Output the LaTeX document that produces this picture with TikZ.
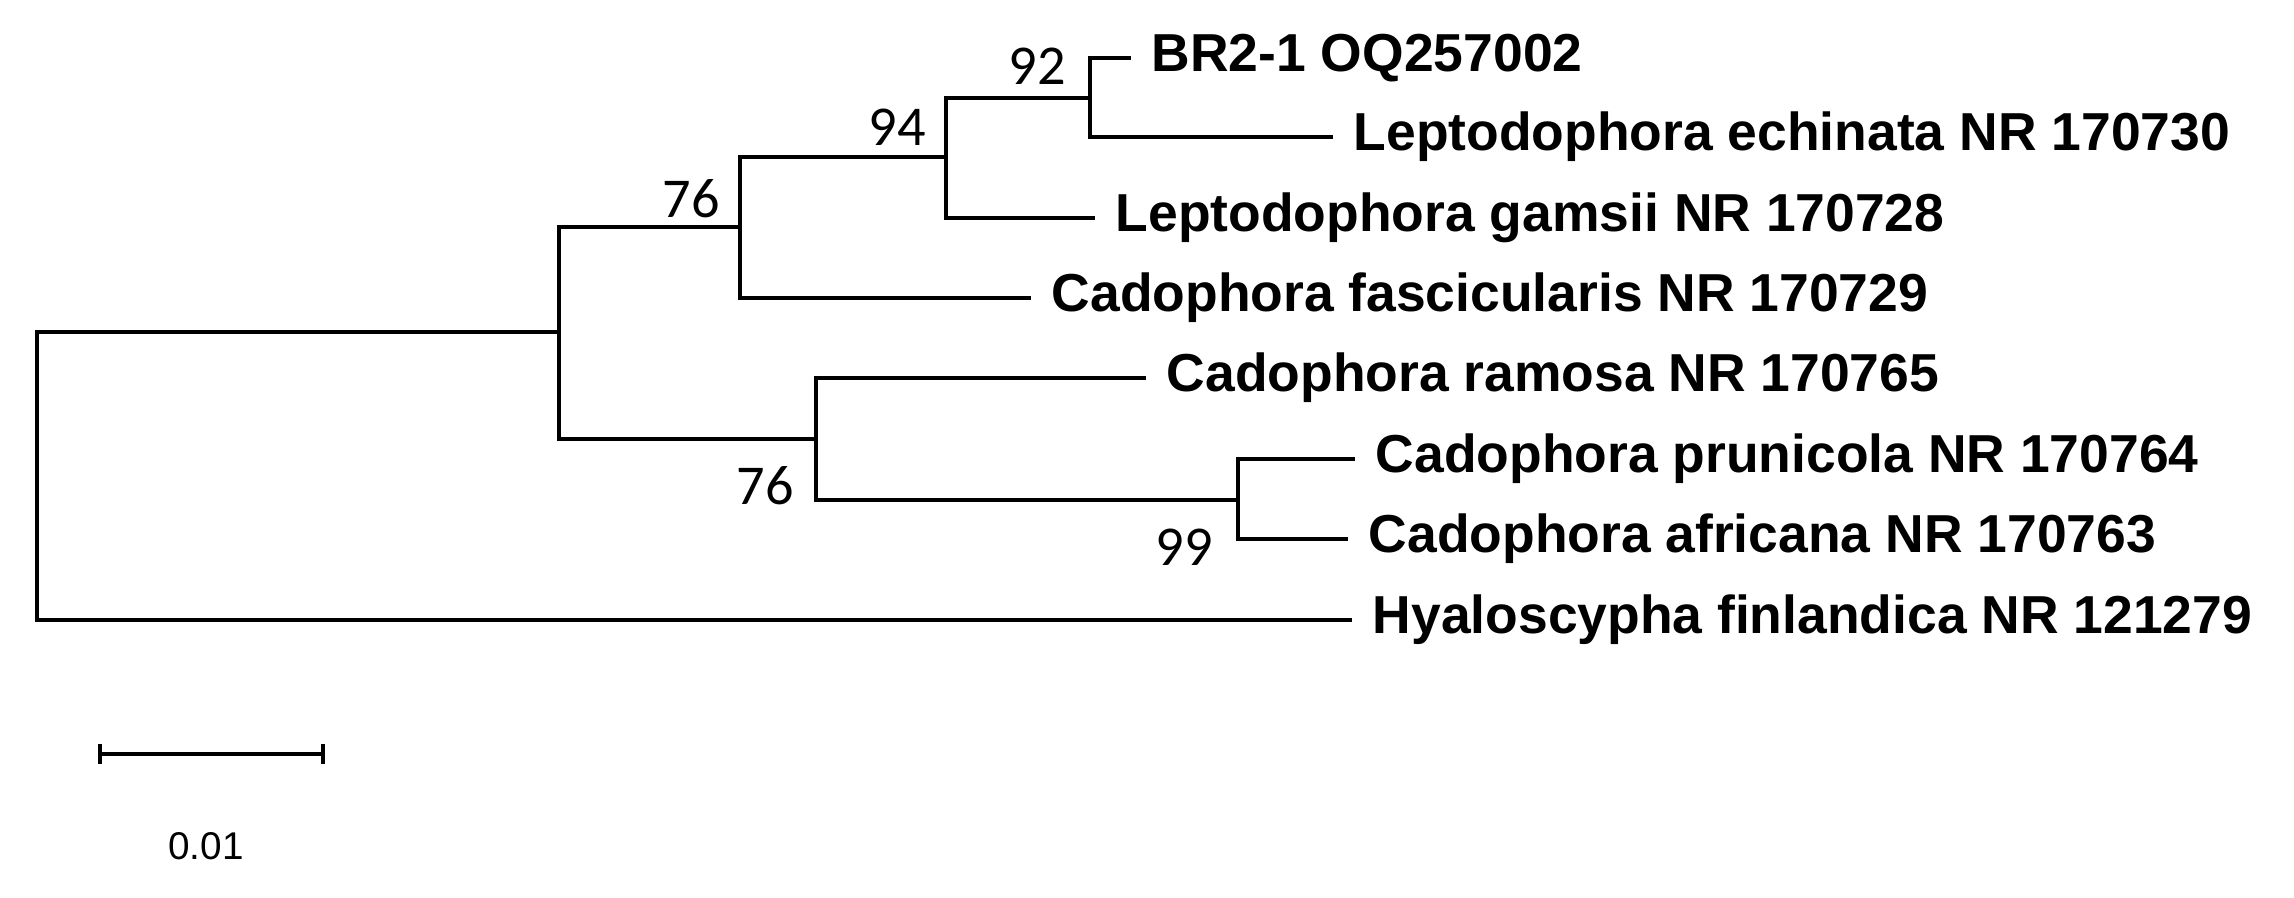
\documentclass[tikz,border=0pt]{standalone}
\usepackage{fontspec}
\setmainfont{Liberation Sans}
\newfontfamily\bootfont{Carlito}
\tikzset{
    branch/.style={line width=1.2pt, line cap=rect},
    taxon/.style={anchor=west, font=\fontsize{15.2}{17}\selectfont\bfseries, inner sep=0pt},
    boot/.style={font=\bootfont\fontsize{16}{18}\selectfont, inner sep=0pt},
}
\begin{document}
\begin{tikzpicture}[x=0.01cm, y=-0.01cm]
    \useasboundingbox (0,0) rectangle (2294,898);

    % internal nodes
    \coordinate (root) at (37,332);
    \coordinate (nA) at (559,332);
    \coordinate (nB) at (740,227);
    \coordinate (nC) at (946,157);
    \coordinate (nD) at (1090,98);
    \coordinate (nE) at (816,439);
    \coordinate (nF) at (1238,500);

    % tips
    \coordinate (tBR) at (1129,58);
    \coordinate (tEch) at (1331,137);
    \coordinate (tGam) at (1093,218);
    \coordinate (tFas) at (1029,298);
    \coordinate (tRam) at (1144,378);
    \coordinate (tPru) at (1353,459);
    \coordinate (tAfr) at (1346,539);
    \coordinate (tHya) at (1350,620);

    % branches
    \draw[branch] (tHya) -| (root) |- (nA);
    \draw[branch] (nB) -| (nA) |- (nE);
    \draw[branch] (nC) -| (nB) |- (tFas);
    \draw[branch] (nD) -| (nC) |- (tGam);
    \draw[branch] (tBR) -| (nD) |- (tEch);
    \draw[branch] (tRam) -| (nE) |- (nF);
    \draw[branch] (tPru) -| (nF) |- (tAfr);

    % labels
    \node[taxon] (lBR) at ([xshift=0.22cm]tBR) {BR2-1 OQ257002};
    \node[taxon] (lEch) at ([xshift=0.22cm]tEch) {Leptodophora echinata NR 170730};
    \node[taxon] (lGam) at ([xshift=0.22cm]tGam) {Leptodophora gamsii NR 170728};
    \node[taxon] (lFas) at ([xshift=0.22cm]tFas) {Cadophora fascicularis NR 170729};
    \node[taxon] (lRam) at ([xshift=0.22cm]tRam) {Cadophora ramosa NR 170765};
    \node[taxon] (lPru) at ([xshift=0.22cm]tPru) {Cadophora prunicola NR 170764};
    \node[taxon] (lAfr) at ([xshift=0.22cm]tAfr) {Cadophora africana NR 170763};
    \node[taxon] (lHya) at ([xshift=0.22cm]tHya) {Hyaloscypha finlandica NR 121279};

    % bootstrap
    \node[boot] (b92) at (1037,66) {92};
    \node[boot] (b94) at (897,127) {94};
    \node[boot] (b76a) at (691,199) {76};
    \node[boot] (b76b) at (765,486) {76};
    \node[boot] (b99) at (1184,547) {99};

    % scale bar
    \coordinate (s0) at (100,754);
    \coordinate (s1) at (323,754);
    \draw[line width=1.2pt] (s0) -- (s1);
    \draw[line width=1.2pt] ([yshift=-0.1cm]s0) -- ([yshift=0.1cm]s0);
    \draw[line width=1.2pt] ([yshift=-0.1cm]s1) -- ([yshift=0.1cm]s1);
    \node[font=\fontsize{11}{13}\selectfont] (scale) at (206,846) {0.01};
\end{tikzpicture}
\end{document}
